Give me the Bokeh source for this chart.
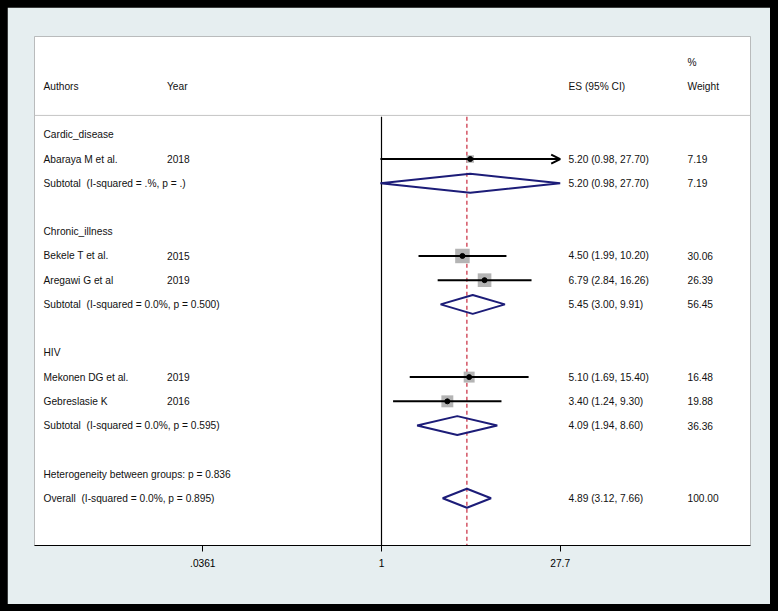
import math
from bokeh.plotting import figure
from bokeh.models import Range1d, FixedTicker, Span, Arrow, OpenHead, ColumnDataSource, LinearScale
from bokeh.core.properties import value
from bokeh.embed import file_html
from bokeh.resources import INLINE

# ---------------- data ----------------
groups = ["Cardic_disease", "Chronic_illness", "HIV"]
group_rows = [1, 5, 10]

authors = ["Abaraya M et al.", "Bekele T et al.", "Aregawi G et al", "Mekonen DG et al.", "Gebreslasie K"]
years = ["2018", "2015", "2019", "2019", "2016"]
es = [5.20, 4.50, 6.79, 5.10, 3.40]
lo = [0.98, 1.99, 2.84, 1.69, 1.24]
hi = [27.70, 10.20, 16.26, 15.40, 9.30]
weight = [7.19, 30.06, 26.39, 16.48, 19.88]
study_rows = [2, 6, 7, 11, 12]

sub_labels = ["Subtotal  (I-squared = .%, p = .)",
              "Subtotal  (I-squared = 0.0%, p = 0.500)",
              "Subtotal  (I-squared = 0.0%, p = 0.595)"]
sub_es = [5.20, 5.45, 4.09]
sub_lo = [0.98, 3.00, 1.94]
sub_hi = [27.70, 9.91, 8.60]
sub_w = [7.19, 56.45, 36.36]
sub_rows = [3, 8, 13]

het_label = "Heterogeneity between groups: p = 0.836"
het_row = 15
overall_label = "Overall  (I-squared = 0.0%, p = 0.895)"
overall_es, overall_lo, overall_hi, overall_w = 4.89, 3.12, 7.66, 100.00
overall_row = 16

tick_values = [0.0361, 1, 27.7]
tick_labels = [".0361", "1", "27.7"]

# ---------------- styling ----------------
FONT = "Liberation Sans"
FS = "10.2px"
BG = "#e6eef0"
NAVY = "#1c1c78"
RED = "#c8283c"
BOXGRAY = "#b4b4b4"

px_per_ln = 53.8
x_lo = math.exp((34 - 381) / px_per_ln)
x_hi = math.exp((750 - 381) / px_per_ln)
y_top = -3.057
y_bot = 17.95

p = figure(width=763, height=597, x_axis_type="log",
           x_range=Range1d(x_lo, x_hi), y_range=Range1d(y_bot, y_top),
           y_axis_location=None, toolbar_location=None, output_backend="svg",
           min_border_left=27, min_border_right=20, min_border_top=29, min_border_bottom=59)
p.extra_x_ranges = {"px": Range1d(0, 716)}
p.extra_x_scales = {"px": LinearScale()}
p.background_fill_color = "white"
p.border_fill_color = BG
p.outline_line_color = None
p.grid.visible = False

ax = p.xaxis[0]
ax.ticker = FixedTicker(ticks=tick_values, minor_ticks=[])
ax.major_label_overrides = {v: l for v, l in zip(tick_values, tick_labels)}
ax.axis_line_color = "black"
ax.axis_line_width = 1
ax.major_tick_line_color = "black"
ax.major_tick_out = 6
ax.major_tick_in = 0
ax.minor_tick_line_color = None
ax.major_label_text_font = FONT
ax.major_label_text_font_size = FS
ax.major_label_text_color = "black"
ax.major_label_standoff = 7

# header separator
p.add_layout(Span(location=0.2, dimension="width", line_color="#c4c4c4", line_width=1))

# vertical null line and overall dashed line
p.segment(x0=[1], y0=[0.25], x1=[1], y1=[y_bot], line_color="black", line_width=1.2)
p.segment(x0=[overall_es], y0=[0.25], x1=[overall_es], y1=[y_bot],
          line_color=RED, line_width=1.2, line_dash="4 3")

# study boxes
box_size = [2.5 * math.sqrt(w) + 0.8 for w in weight]
p.scatter(x=es, y=study_rows, size=box_size, marker="square",
          fill_color=BOXGRAY, line_color=None)

# CI lines (arrow if reaching the axis limit)
axis_max = max(tick_values)
for e, l, h, r in zip(es, lo, hi, study_rows):
    if h >= axis_max - 1e-9:
        p.add_layout(Arrow(end=OpenHead(size=9, line_width=2, line_color="black"),
                           x_start=l, y_start=r, x_end=min(h, axis_max), y_end=r,
                           line_color="black", line_width=2))
    else:
        p.segment(x0=[l], y0=[r], x1=[h], y1=[r], line_color="black", line_width=2)

p.scatter(x=es, y=study_rows, size=5, marker="circle", fill_color="black", line_color="black")

# diamonds
half_h = 0.39
d_es = sub_es + [overall_es]
d_lo = sub_lo + [overall_lo]
d_hi = sub_hi + [overall_hi]
d_rows = sub_rows + [overall_row]
xs = [[l, e, h, e, l] for e, l, h in zip(d_es, d_lo, d_hi)]
ys = [[r, r - half_h, r, r + half_h, r] for r in d_rows]
p.patches(xs=xs, ys=ys, fill_color=None, line_color=NAVY, line_width=2)

# text columns (pixel-like extra range)
X_AUTH, X_YEAR, X_ES, X_W = 9, 132.5, 534, 653

keep_spaces = lambda s: s.replace("  ", " \u00a0")
left_txt = [keep_spaces(s) for s in
            (["Authors"] + groups + authors + sub_labels + [het_label, overall_label])]
left_row = ([-1] + group_rows + study_rows + sub_rows + [het_row, overall_row])
year_txt = ["Year"] + years
year_row = [-1] + study_rows

fmt = lambda e, l, h: f"{e:.2f} ({l:.2f}, {h:.2f})"
es_txt = (["ES (95% CI)"] + [fmt(*t) for t in zip(es, lo, hi)]
          + [fmt(*t) for t in zip(sub_es, sub_lo, sub_hi)]
          + [fmt(overall_es, overall_lo, overall_hi)])
es_row = [-1] + study_rows + sub_rows + [overall_row]
w_txt = (["%", "Weight"] + [f"{w:.2f}" for w in weight] + [f"{w:.2f}" for w in sub_w]
         + [f"{overall_w:.2f}"])
w_row = [-2, -1] + study_rows + sub_rows + [overall_row]

def put(xpos, txts, rows):
    src = ColumnDataSource(dict(x=[xpos] * len(txts), y=rows, t=txts))
    p.text(x="x", y="y", text="t", source=src, x_range_name="px",
           text_font=value(FONT), text_font_size=FS, text_color="#111111",
           text_align="left", text_baseline="middle")

put(X_AUTH, left_txt, left_row)
put(X_YEAR, year_txt, year_row)
put(X_ES, es_txt, es_row)
put(X_W, w_txt, w_row)

html = file_html(p, INLINE)
html = html.replace("</head>",
                    "<style>html, body { background-color: #000000; } body { padding: 7px !important; }</style>\n</head>", 1)
open("out.html", "w").write(html)
